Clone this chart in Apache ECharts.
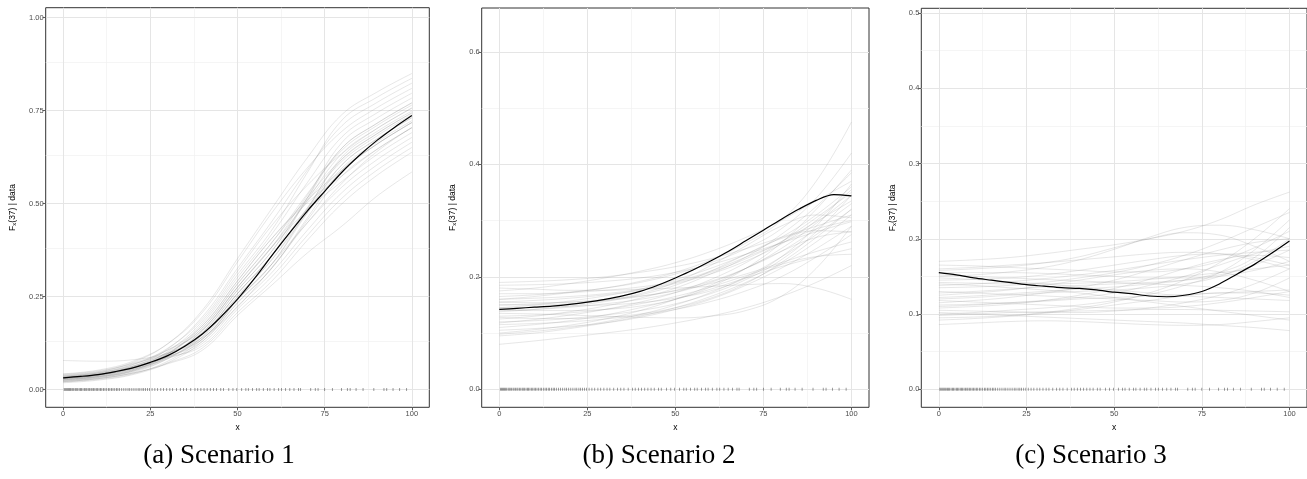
<!DOCTYPE html>
<html>
<head>
<meta charset="utf-8">
<script src="https://cdn.jsdelivr.net/npm/echarts@6/dist/echarts.min.js"></script>
<style>
html, body { margin: 0; padding: 0; background: #fff; }
#chart { width: 1307px; height: 479px; }
</style>
</head>
<body>
<div id="chart"></div>
<script>
// x positions of the posterior draws and of the posterior mean
const drawX = [0, 10, 20, 30, 40, 50, 60, 70, 80, 90, 100];
const meanX = [0, 5, 10, 15, 20, 25, 30, 35, 40, 45, 50, 55, 60, 65, 70, 75, 80, 85, 90, 95, 100];

// observed covariate values (rug)
const rugX = [0.3, 0.6, 0.9, 1.2, 1.5, 1.8, 2.1, 2.5, 2.8, 3.1, 3.5, 3.9, 4.2, 4.6, 5.0, 5.3, 5.7, 6.1, 6.5, 6.8,
    7.2, 7.6, 8.0, 8.3, 8.7, 9.1, 9.5, 9.9, 10.3, 10.7, 11.1, 11.6, 12.0, 12.5, 13.0, 13.4, 13.9, 14.3, 14.8, 15.3,
    15.7, 16.2, 16.8, 17.4, 18.0, 18.6, 19.1, 19.7, 20.3, 20.9, 21.5, 22.0, 22.6, 23.1, 23.6, 24.2, 24.8, 25.5, 26.3,
    27.1, 28.0, 28.8, 29.7, 30.6, 31.4, 32.5, 33.6, 34.5, 35.4, 36.6, 37.8, 38.6, 39.5, 40.4, 41.3, 42.2, 43.1, 44.0,
    45.2, 46.0, 47.5, 48.7, 49.8, 51.2, 52.4, 53.1, 54.3, 55.5, 56.2, 57.4, 58.6, 59.3, 60.5, 61.8, 62.6, 63.8, 65.0,
    66.2, 67.5, 68.1, 71.0, 72.3, 73.1, 75.0, 77.2, 79.8, 81.5, 82.3, 84.0, 86.0, 89.1, 92.0, 92.8, 94.6, 96.5, 98.5];

// scenario 1
const s1Mean = [0.031, 0.035, 0.040, 0.048, 0.058, 0.073, 0.091, 0.117, 0.150, 0.193, 0.243, 0.300, 0.362, 0.422,
    0.480, 0.533, 0.585, 0.630, 0.670, 0.705, 0.737];
const s1Draws = [
    [0.030, 0.039, 0.058, 0.088, 0.136, 0.241, 0.339, 0.475, 0.605, 0.674, 0.731],
    [0.024, 0.032, 0.049, 0.088, 0.160, 0.275, 0.385, 0.522, 0.650, 0.716, 0.771],
    [0.036, 0.045, 0.067, 0.106, 0.172, 0.292, 0.408, 0.502, 0.575, 0.646, 0.704],
    [0.021, 0.029, 0.044, 0.071, 0.112, 0.207, 0.293, 0.401, 0.500, 0.576, 0.638],
    [0.033, 0.042, 0.062, 0.109, 0.196, 0.326, 0.454, 0.590, 0.710, 0.772, 0.824],
    [0.027, 0.035, 0.053, 0.086, 0.142, 0.250, 0.351, 0.488, 0.620, 0.688, 0.744],
    [0.039, 0.048, 0.071, 0.106, 0.160, 0.275, 0.385, 0.482, 0.560, 0.632, 0.691],
    [0.018, 0.025, 0.040, 0.072, 0.130, 0.233, 0.328, 0.461, 0.590, 0.660, 0.718],
    [0.032, 0.040, 0.060, 0.095, 0.154, 0.267, 0.374, 0.509, 0.635, 0.702, 0.757],
    [0.026, 0.034, 0.051, 0.095, 0.178, 0.301, 0.420, 0.556, 0.680, 0.744, 0.797],
    [0.029, 0.037, 0.055, 0.083, 0.124, 0.224, 0.316, 0.428, 0.530, 0.604, 0.665],
    [0.035, 0.044, 0.064, 0.097, 0.148, 0.258, 0.362, 0.488, 0.605, 0.674, 0.731],
    [0.023, 0.030, 0.046, 0.083, 0.148, 0.258, 0.362, 0.515, 0.665, 0.730, 0.784],
    [0.030, 0.039, 0.058, 0.097, 0.166, 0.284, 0.397, 0.515, 0.620, 0.688, 0.744],
    [0.038, 0.047, 0.069, 0.097, 0.136, 0.241, 0.339, 0.448, 0.545, 0.618, 0.678],
    [0.027, 0.035, 0.053, 0.095, 0.172, 0.292, 0.408, 0.509, 0.590, 0.660, 0.718],
    [0.033, 0.042, 0.062, 0.086, 0.118, 0.216, 0.305, 0.414, 0.515, 0.590, 0.651],
    [0.024, 0.032, 0.049, 0.083, 0.142, 0.250, 0.351, 0.475, 0.590, 0.660, 0.718],
    [0.030, 0.039, 0.058, 0.102, 0.184, 0.309, 0.431, 0.583, 0.725, 0.786, 0.837],
    [0.042, 0.052, 0.076, 0.123, 0.208, 0.343, 0.477, 0.596, 0.695, 0.758, 0.810],
    [0.029, 0.037, 0.055, 0.092, 0.154, 0.267, 0.374, 0.515, 0.650, 0.716, 0.771],
    [0.020, 0.027, 0.042, 0.076, 0.136, 0.241, 0.339, 0.484, 0.626, 0.694, 0.749],
    [0.032, 0.040, 0.060, 0.088, 0.130, 0.233, 0.328, 0.455, 0.575, 0.646, 0.704],
    [0.026, 0.034, 0.051, 0.090, 0.160, 0.275, 0.385, 0.506, 0.614, 0.682, 0.739],
    [0.036, 0.045, 0.067, 0.111, 0.190, 0.318, 0.443, 0.549, 0.635, 0.702, 0.757],
    [0.021, 0.029, 0.044, 0.069, 0.106, 0.199, 0.282, 0.367, 0.440, 0.520, 0.585],
    [0.030, 0.039, 0.058, 0.092, 0.148, 0.258, 0.362, 0.484, 0.596, 0.666, 0.723],
    [0.033, 0.042, 0.062, 0.100, 0.166, 0.284, 0.397, 0.526, 0.644, 0.710, 0.765],
    [0.078, 0.076, 0.080, 0.098, 0.140, 0.222, 0.330, 0.448, 0.555, 0.640, 0.705],
    [0.041, 0.050, 0.073, 0.123, 0.214, 0.352, 0.489, 0.623, 0.740, 0.800, 0.850]
];

// scenario 2
const s2Mean = [0.142, 0.144, 0.146, 0.148, 0.151, 0.155, 0.160, 0.166, 0.174, 0.185, 0.198, 0.212, 0.228, 0.245,
    0.264, 0.283, 0.302, 0.320, 0.336, 0.346, 0.344];
const s2Draws = [
    [0.190, 0.192, 0.195, 0.200, 0.208, 0.218, 0.232, 0.250, 0.270, 0.290, 0.310],
    [0.080, 0.086, 0.093, 0.100, 0.108, 0.118, 0.130, 0.145, 0.165, 0.190, 0.220],
    [0.142, 0.140, 0.140, 0.142, 0.148, 0.160, 0.182, 0.215, 0.260, 0.320, 0.390],
    [0.160, 0.165, 0.172, 0.180, 0.190, 0.205, 0.225, 0.250, 0.285, 0.340, 0.420],
    [0.120, 0.122, 0.126, 0.132, 0.140, 0.152, 0.170, 0.195, 0.230, 0.280, 0.345],
    [0.170, 0.170, 0.172, 0.176, 0.182, 0.192, 0.210, 0.235, 0.260, 0.285, 0.300],
    [0.100, 0.106, 0.114, 0.125, 0.140, 0.160, 0.185, 0.215, 0.245, 0.270, 0.280],
    [0.150, 0.150, 0.152, 0.158, 0.170, 0.190, 0.220, 0.255, 0.290, 0.310, 0.305],
    [0.135, 0.134, 0.132, 0.130, 0.128, 0.127, 0.130, 0.140, 0.165, 0.215, 0.290],
    [0.145, 0.150, 0.157, 0.166, 0.178, 0.195, 0.215, 0.240, 0.270, 0.310, 0.360],
    [0.110, 0.115, 0.122, 0.132, 0.145, 0.160, 0.178, 0.198, 0.218, 0.235, 0.250],
    [0.180, 0.178, 0.176, 0.176, 0.178, 0.180, 0.183, 0.186, 0.188, 0.180, 0.160],
    [0.125, 0.130, 0.138, 0.148, 0.162, 0.180, 0.205, 0.235, 0.275, 0.325, 0.385],
    [0.155, 0.158, 0.162, 0.168, 0.176, 0.188, 0.205, 0.228, 0.258, 0.300, 0.355],
    [0.095, 0.100, 0.108, 0.118, 0.130, 0.145, 0.165, 0.190, 0.222, 0.262, 0.310],
    [0.165, 0.168, 0.173, 0.180, 0.192, 0.208, 0.230, 0.260, 0.300, 0.370, 0.475],
    [0.130, 0.132, 0.136, 0.142, 0.152, 0.165, 0.182, 0.202, 0.222, 0.236, 0.240],
    [0.140, 0.142, 0.146, 0.152, 0.160, 0.172, 0.190, 0.215, 0.250, 0.295, 0.345],
    [0.115, 0.117, 0.120, 0.125, 0.132, 0.142, 0.156, 0.175, 0.200, 0.235, 0.275],
    [0.175, 0.180, 0.188, 0.198, 0.210, 0.225, 0.245, 0.270, 0.300, 0.335, 0.370],
    [0.105, 0.108, 0.112, 0.118, 0.128, 0.142, 0.160, 0.185, 0.215, 0.250, 0.290],
    [0.150, 0.152, 0.155, 0.160, 0.166, 0.175, 0.188, 0.205, 0.225, 0.245, 0.262],
    [0.128, 0.126, 0.126, 0.128, 0.134, 0.145, 0.162, 0.188, 0.225, 0.270, 0.320],
    [0.160, 0.162, 0.165, 0.170, 0.178, 0.190, 0.208, 0.232, 0.262, 0.298, 0.335],
    [0.138, 0.142, 0.148, 0.156, 0.168, 0.185, 0.210, 0.240, 0.268, 0.282, 0.280],
    [0.118, 0.124, 0.132, 0.142, 0.155, 0.172, 0.195, 0.225, 0.262, 0.305, 0.350],
    [0.145, 0.146, 0.148, 0.150, 0.154, 0.162, 0.175, 0.198, 0.235, 0.290, 0.365],
    [0.185, 0.186, 0.188, 0.192, 0.198, 0.208, 0.222, 0.240, 0.260, 0.280, 0.298],
    [0.098, 0.103, 0.110, 0.120, 0.133, 0.150, 0.172, 0.200, 0.235, 0.275, 0.320],
    [0.155, 0.154, 0.155, 0.158, 0.165, 0.176, 0.192, 0.215, 0.245, 0.285, 0.330]
];

// scenario 3
const s3Mean = [0.155, 0.152, 0.148, 0.145, 0.142, 0.139, 0.137, 0.135, 0.134, 0.132, 0.129, 0.127, 0.124, 0.123,
    0.125, 0.130, 0.140, 0.153, 0.166, 0.181, 0.197];
const s3Draws = [
    [0.170, 0.172, 0.175, 0.180, 0.186, 0.192, 0.200, 0.210, 0.225, 0.245, 0.262],
    [0.086, 0.088, 0.090, 0.091, 0.090, 0.088, 0.086, 0.085, 0.086, 0.090, 0.095],
    [0.150, 0.152, 0.156, 0.162, 0.172, 0.186, 0.202, 0.215, 0.218, 0.212, 0.200],
    [0.120, 0.122, 0.125, 0.128, 0.130, 0.132, 0.135, 0.140, 0.150, 0.170, 0.200],
    [0.100, 0.102, 0.105, 0.108, 0.112, 0.118, 0.126, 0.138, 0.155, 0.185, 0.225],
    [0.140, 0.138, 0.135, 0.132, 0.128, 0.122, 0.116, 0.110, 0.104, 0.098, 0.092],
    [0.160, 0.162, 0.165, 0.168, 0.172, 0.176, 0.180, 0.182, 0.180, 0.172, 0.160],
    [0.110, 0.112, 0.115, 0.118, 0.122, 0.128, 0.138, 0.150, 0.165, 0.180, 0.190],
    [0.130, 0.128, 0.126, 0.124, 0.122, 0.120, 0.118, 0.116, 0.118, 0.128, 0.148],
    [0.095, 0.096, 0.098, 0.102, 0.108, 0.116, 0.128, 0.145, 0.168, 0.200, 0.240],
    [0.145, 0.146, 0.148, 0.152, 0.158, 0.165, 0.172, 0.178, 0.180, 0.175, 0.165],
    [0.125, 0.128, 0.132, 0.138, 0.145, 0.152, 0.158, 0.160, 0.156, 0.145, 0.130],
    [0.105, 0.104, 0.103, 0.102, 0.102, 0.104, 0.108, 0.115, 0.125, 0.140, 0.160],
    [0.155, 0.155, 0.155, 0.154, 0.152, 0.150, 0.148, 0.148, 0.152, 0.165, 0.185],
    [0.115, 0.118, 0.122, 0.128, 0.135, 0.145, 0.158, 0.172, 0.185, 0.195, 0.200],
    [0.135, 0.136, 0.138, 0.142, 0.148, 0.155, 0.165, 0.178, 0.195, 0.215, 0.235],
    [0.098, 0.100, 0.102, 0.103, 0.104, 0.105, 0.106, 0.106, 0.105, 0.104, 0.103],
    [0.148, 0.146, 0.143, 0.140, 0.136, 0.132, 0.128, 0.124, 0.122, 0.120, 0.118],
    [0.165, 0.164, 0.162, 0.160, 0.158, 0.156, 0.156, 0.160, 0.170, 0.188, 0.210],
    [0.128, 0.130, 0.133, 0.136, 0.138, 0.140, 0.142, 0.145, 0.150, 0.158, 0.170],
    [0.108, 0.110, 0.113, 0.118, 0.125, 0.134, 0.146, 0.160, 0.172, 0.178, 0.175],
    [0.118, 0.116, 0.114, 0.112, 0.110, 0.108, 0.108, 0.110, 0.115, 0.122, 0.130],
    [0.138, 0.140, 0.143, 0.147, 0.152, 0.158, 0.165, 0.172, 0.178, 0.182, 0.185],
    [0.092, 0.094, 0.097, 0.101, 0.106, 0.112, 0.118, 0.124, 0.128, 0.128, 0.125],
    [0.152, 0.150, 0.148, 0.146, 0.144, 0.142, 0.140, 0.138, 0.135, 0.130, 0.122],
    [0.122, 0.124, 0.127, 0.130, 0.133, 0.136, 0.140, 0.145, 0.155, 0.175, 0.215],
    [0.158, 0.160, 0.163, 0.168, 0.176, 0.188, 0.200, 0.208, 0.205, 0.190, 0.170],
    [0.112, 0.113, 0.115, 0.117, 0.120, 0.122, 0.124, 0.126, 0.128, 0.130, 0.132],
    [0.142, 0.141, 0.140, 0.140, 0.141, 0.143, 0.146, 0.150, 0.155, 0.160, 0.165],
    [0.102, 0.100, 0.098, 0.096, 0.094, 0.092, 0.090, 0.088, 0.085, 0.082, 0.078]
];

// axis breaks
const xMajor = [0, 25, 50, 75, 100];
const xMinor = [12.5, 37.5, 62.5, 87.5];
const s1YMajor = [0, 0.25, 0.5, 0.75, 1];
const s1YMinor = [0.125, 0.375, 0.625, 0.875];
const s2YMajor = [0, 0.2, 0.4, 0.6];
const s2YMinor = [0.1, 0.3, 0.5];
const s3YMajor = [0, 0.1, 0.2, 0.3, 0.4, 0.5];
const s3YMinor = [0.05, 0.15, 0.25, 0.35, 0.45];
const captions = ["(a) Scenario 1", "(b) Scenario 2", "(c) Scenario 3"];

const FONT = "Liberation Sans";
const panels = [
    { draws: s1Draws, mean: s1Mean, yMajor: s1YMajor, yMinor: s1YMinor, yMin: -0.048, yMax: 1.027, digits: 2,
      box: { left: 45.7, top: 7.7, width: 383.6, height: 399.6 }, nameGap: 28, capX: 219 },
    { draws: s2Draws, mean: s2Mean, yMajor: s2YMajor, yMinor: s2YMinor, yMin: -0.032, yMax: 0.678, digits: 1,
      box: { left: 481.7, top: 8, width: 387.3, height: 399.3 }, nameGap: 24, capX: 659 },
    { draws: s3Draws, mean: s3Mean, yMajor: s3YMajor, yMinor: s3YMinor, yMin: -0.0239, yMax: 0.5062, digits: 1,
      box: { left: 921.3, top: 8.3, width: 387, height: 399 }, nameGap: 23.5, capX: 1091 }
];

const grids = [], xAxes = [], yAxes = [], series = [], graphics = [];

panels.forEach((p, i) => {
    grids.push(Object.assign({ show: true, borderColor: "#333333", borderWidth: 1, backgroundColor: "#fff",
        containLabel: false }, p.box));

    xAxes.push({
        type: "value", gridIndex: i, min: -5, max: 105,
        name: "x", nameLocation: "middle", nameGap: 13,
        nameTextStyle: { fontFamily: FONT, fontSize: 8.5, color: "#000" },
        axisLine: { show: false, onZero: false },
        axisTick: { show: true, customValues: xMajor, length: 3, lineStyle: { color: "#333333", width: 0.8 } },
        axisLabel: { customValues: xMajor, margin: 3, fontFamily: FONT, fontSize: 7.5, color: "#4d4d4d" },
        splitLine: { show: false }
    });

    yAxes.push({
        type: "value", gridIndex: i, min: p.yMin, max: p.yMax,
        name: "F{s|x}(37) | data", nameLocation: "middle", nameGap: p.nameGap,
        nameTextStyle: { fontFamily: FONT, fontSize: 8.5, color: "#000",
            rich: { s: { fontFamily: FONT, fontSize: 6, color: "#000", padding: [5, 0, 0, 0] } } },
        axisLine: { show: false, onZero: false },
        axisTick: { show: true, customValues: p.yMajor, length: 3, lineStyle: { color: "#333333", width: 0.8 } },
        axisLabel: { customValues: p.yMajor, margin: 2, fontFamily: FONT, fontSize: 7.5, color: "#4d4d4d",
            formatter: v => v.toFixed(p.digits) },
        splitLine: { show: false }
    });

    // panel grid lines, placed through the axes
    const minorStyle = { color: "#f0f0f0", width: 0.7, type: "solid" };
    const majorStyle = { color: "#e5e5e5", width: 1, type: "solid" };
    const lines = []
        .concat(xMinor.map(v => ({ xAxis: v, lineStyle: minorStyle })))
        .concat(p.yMinor.map(v => ({ yAxis: v, lineStyle: minorStyle })))
        .concat(xMajor.map(v => ({ xAxis: v, lineStyle: majorStyle })))
        .concat(p.yMajor.map(v => ({ yAxis: v, lineStyle: majorStyle })));
    series.push({
        type: "line", xAxisIndex: i, yAxisIndex: i, data: [], silent: true, z: 0,
        markLine: { silent: true, symbol: "none", animation: false, z: 0, label: { show: false },
            lineStyle: { type: "solid" }, emphasis: { disabled: true }, data: lines }
    });

    p.draws.forEach(d => {
        series.push({
            type: "line", xAxisIndex: i, yAxisIndex: i, z: 2, silent: true, animation: false,
            smooth: 0.4, showSymbol: false,
            data: drawX.map((x, j) => [x, d[j]]),
            lineStyle: { color: "rgba(120,120,120,0.2)", width: 0.9 }
        });
    });

    series.push({
        type: "scatter", xAxisIndex: i, yAxisIndex: i, z: 3, silent: true, animation: false,
        symbol: "rect", symbolSize: [0.8, 3],
        data: rugX.map(x => [x, 0]),
        itemStyle: { color: "rgba(0,0,0,0.6)" }
    });

    series.push({
        type: "line", xAxisIndex: i, yAxisIndex: i, z: 4, silent: true, animation: false,
        smooth: 0.3, showSymbol: false,
        data: meanX.map((x, j) => [x, p.mean[j]]),
        lineStyle: { color: "#000", width: 1.2 }
    });

    graphics.push({
        type: "text", x: p.capX, y: 456,
        style: { text: captions[i], fontFamily: "Liberation Serif", fontSize: 27, fill: "#000",
            align: "center", verticalAlign: "middle" }
    });
});

const myChart = echarts.init(document.getElementById("chart"), null, { renderer: "canvas" });
myChart.setOption({
    animation: false,
    backgroundColor: "#fff",
    grid: grids,
    xAxis: xAxes,
    yAxis: yAxes,
    series: series,
    graphic: graphics
});
</script>
</body>
</html>
